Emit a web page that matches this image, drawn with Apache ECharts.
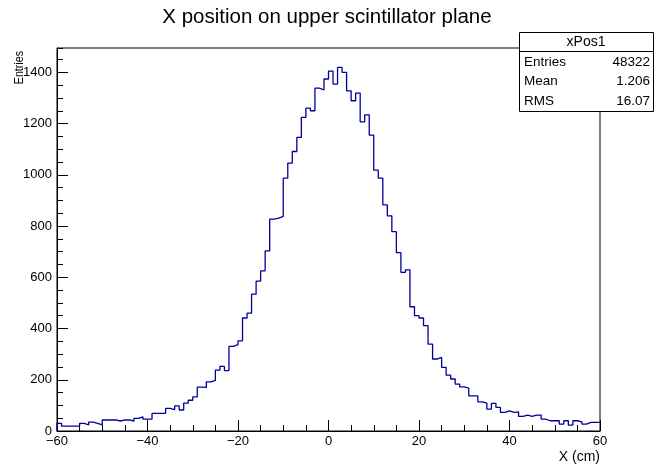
<!DOCTYPE html>
<html><head><meta charset="utf-8">
<script src="https://cdn.jsdelivr.net/npm/echarts@6/dist/echarts.min.js"></script>
<style>html,body{margin:0;padding:0;background:#fff}#c{width:654px;height:469px}</style>
</head><body><div id="c"></div>
<script>
// Histogram: 120 bins of width 1 cm from -60 to 60
const binLow = -60;
const binWidth = 1;
const counts = [
  30,19,19,19,19,30,24,35,30,24,
  43,43,43,39,43,43,39,49,55,46,
  46,69,69,69,88,83,98,82,109,120,
  133,171,170,192,198,238,252,236,330,337,
  352,441,460,534,585,625,703,827,831,838,
  987,1046,1091,1146,1224,1260,1250,1338,1331,1374,
  1405,1354,1419,1400,1328,1289,1319,1207,1234,1155,
  1018,987,883,840,778,696,619,629,485,450,
  441,411,339,281,287,248,218,203,183,172,
  167,137,137,114,109,85,108,92,73,79,
  73,75,57,62,57,62,62,46,40,40,
  40,27,40,23,40,36,27,34,34,34
];
const titleText = 'X position on upper scintillator plane';
const xTitle = 'X (cm)';
const yTitle = 'Entries';
const statsName = 'xPos1';
const statsLabels = ['Entries', 'Mean', 'RMS'];
const statsValues = ['48322', '1.206', '16.07'];
const xRange = [-60, 60];
const yRange = [0, 1495];

const pts = [[binLow, 0]];
counts.forEach((c, i) => pts.push([binLow + i * binWidth, c]));
pts.push([binLow + counts.length * binWidth, counts[counts.length - 1]]);

const FONT = 'Liberation Sans';
const fmt = v => (v < 0 ? '\u2212' + Math.abs(v) : String(v));
const chart = echarts.init(document.getElementById('c'), null, {renderer: 'canvas'});

const G = {left: 57, right: 54, top: 48, bottom: 38};
const statsX = 519, statsY = 32, statsW = 134, statsH = 79;
const graphics = [
  {type: 'text', left: 'center', style: {text: titleText, x: 0, y: 0, font: '20.5px "Liberation Sans"', fill: '#000'}, top: 7},
  {type: 'text', x: 19, y: 51, rotation: Math.PI / 2, scaleX: 0.82,
   style: {text: yTitle, font: '13px "Liberation Sans"', fill: '#000', textAlign: 'right', textVerticalAlign: 'middle'}},
  {type: 'text', x: 600, y: 457,
   style: {text: xTitle, font: '14px "Liberation Sans"', fill: '#000', textAlign: 'right', textVerticalAlign: 'middle'}},
  {type: 'rect', shape: {x: statsX + 0.5, y: statsY + 0.5, width: statsW, height: statsH},
   style: {fill: '#fff', stroke: '#000', lineWidth: 1}, z: 10},
  {type: 'line', shape: {x1: statsX, y1: statsY + 19.5, x2: statsX + statsW, y2: statsY + 19.5},
   style: {stroke: '#000', lineWidth: 1}, z: 11},
  {type: 'text', x: statsX + statsW / 2, y: statsY + 10.5, z: 11,
   style: {text: statsName, font: '14px "Liberation Sans"', fill: '#000', textAlign: 'center', textVerticalAlign: 'middle'}}
];
statsLabels.forEach((l, i) => {
  const y = statsY + 30 + i * 19.5;
  graphics.push({type: 'text', x: statsX + 5, y: y, z: 11,
    style: {text: l, font: '13.5px "Liberation Sans"', fill: '#000', textAlign: 'left', textVerticalAlign: 'middle'}});
  graphics.push({type: 'text', x: statsX + statsW - 3, y: y, z: 11,
    style: {text: statsValues[i], font: '13.5px "Liberation Sans"', fill: '#000', textAlign: 'right', textVerticalAlign: 'middle'}});
});

chart.setOption({
  animation: false,
  backgroundColor: '#fff',
  grid: Object.assign({show: true, borderColor: '#000', borderWidth: 1, backgroundColor: 'transparent'}, G),
  xAxis: [
    {type: 'value', min: xRange[0], max: xRange[1], interval: 20, position: 'bottom',
     axisLine: {show: true, onZero: false, lineStyle: {color: '#000', width: 1}},
     axisTick: {show: true, inside: true, length: 11, lineStyle: {color: '#000'}},
     axisLabel: {color: '#000', fontFamily: FONT, fontSize: 13, margin: 4, formatter: fmt},
     splitLine: {show: false}},
    {type: 'value', min: xRange[0], max: xRange[1], interval: 5, position: 'bottom',
     axisLine: {show: false, onZero: false},
     axisTick: {show: true, inside: true, length: 6, lineStyle: {color: '#000'}},
     axisLabel: {show: false}, splitLine: {show: false}}
  ],
  yAxis: [
    {type: 'value', min: yRange[0], max: yRange[1], interval: 200, position: 'left',
     axisLine: {show: true, onZero: false, lineStyle: {color: '#000', width: 1}},
     axisTick: {show: true, inside: true, length: 11, lineStyle: {color: '#000'}},
     axisLabel: {color: '#000', fontFamily: FONT, fontSize: 13, margin: 5, showMaxLabel: false, formatter: v => String(v)},
     splitLine: {show: false}},
    {type: 'value', min: yRange[0], max: yRange[1], interval: 50, position: 'left',
     axisLine: {show: false, onZero: false},
     axisTick: {show: true, inside: true, length: 6, lineStyle: {color: '#000'}},
     axisLabel: {show: false}, splitLine: {show: false}}
  ],
  series: [{
    type: 'line', step: 'end', data: pts, xAxisIndex: 0, yAxisIndex: 0,
    showSymbol: false, symbol: 'none',
    lineStyle: {color: '#000099', width: 1.3}
  }],
  graphic: graphics
});
</script></body></html>
